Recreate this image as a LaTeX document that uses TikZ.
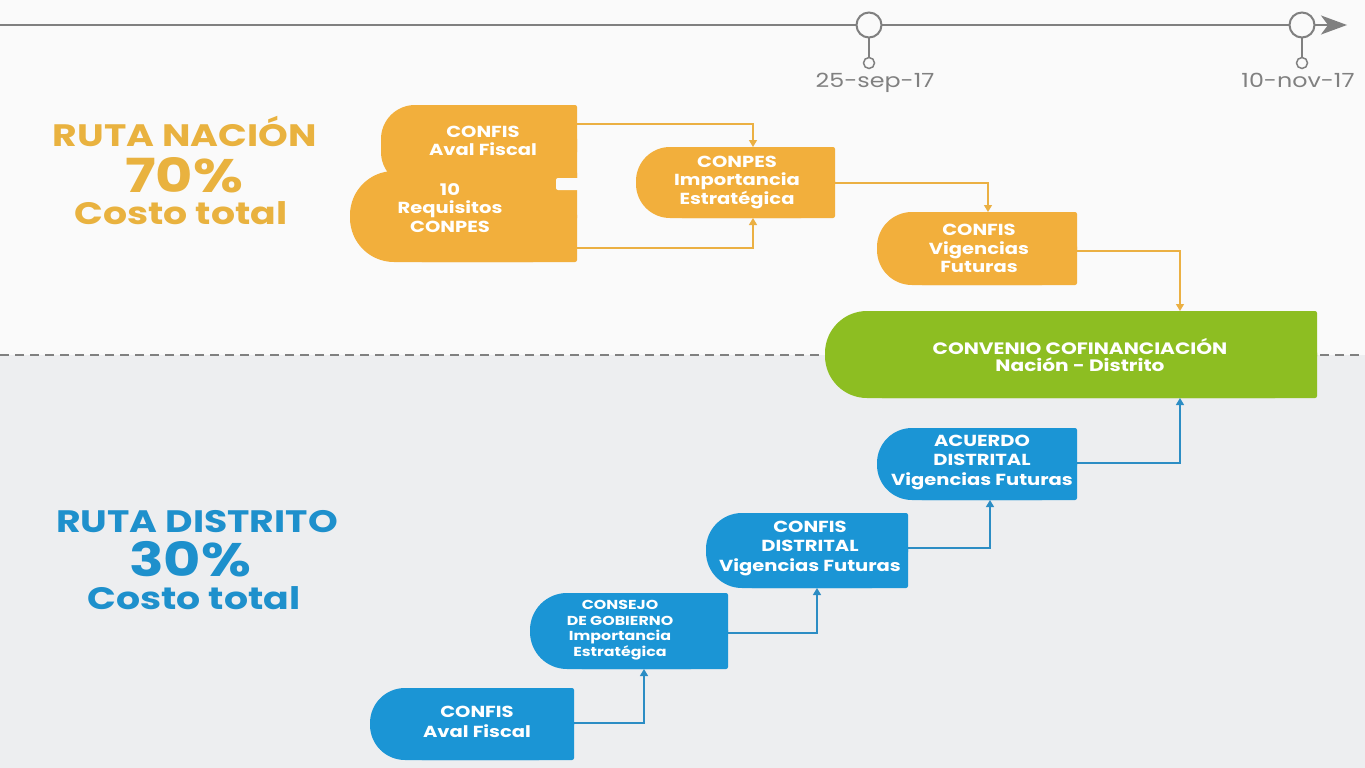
\documentclass[tikz,border=0pt]{standalone}
\usepackage{fontspec}
\setmainfont{Poppins}[FakeStretch=1.22]
\usetikzlibrary{arrows.meta,calc}
\pgfdeclarelayer{bg}
\pgfsetlayers{bg,main}
\definecolor{ora}{HTML}{F2AF3C}
\definecolor{oratext}{HTML}{E9B23F}
\definecolor{blu}{HTML}{1B95D5}
\definecolor{blutext}{HTML}{1E90CC}
\definecolor{grn}{HTML}{8DBE22}
\definecolor{topbg}{HTML}{FAFAFA}
\definecolor{botbg}{HTML}{EDEEF0}
\definecolor{tl}{HTML}{808080}
\definecolor{orline}{HTML}{EBB043}
\definecolor{blline}{HTML}{2C8DC4}
\begin{document}
\begin{tikzpicture}[x=1pt,y=-1pt,
  every node/.style={inner sep=0pt},
  box/.style 2 args={minimum width=#1,minimum height=#2,align=center,text=white},
  ofont/.style={font=\bfseries\fontsize{16}{18.5}\selectfont},
  bfont/.style={font=\bfseries\fontsize{16}{19.5}\selectfont},
  sfont/.style={font=\bfseries\fontsize{13}{15.5}\selectfont},
  gfont/.style={font=\bfseries\fontsize{16.5}{17.5}\selectfont},
  oarr/.style={orline,line width=1.3pt,-{Triangle[length=7pt,width=8pt]}},
  barr/.style={blline,line width=1.3pt,-{Triangle[length=7pt,width=8pt]}},
  big/.style={anchor=base,font=\bfseries\fontsize{31}{34}\selectfont},
  huge/.style={anchor=base,font=\bfseries\fontsize{47}{50}\selectfont},
  date/.style={anchor=base,text=tl,font=\fontsize{19.5}{22}\selectfont}]
\useasboundingbox (0,0) rectangle (1365,768);
\begin{pgfonlayer}{bg}
  \fill[topbg] (0,0) rectangle (1365,355);
  \fill[botbg] (0,355) rectangle (1365,768);
  \draw[tl,line width=1.5pt,dash pattern=on 9pt off 6pt] (0,355) -- (1365,355);
\end{pgfonlayer}

% timeline
\coordinate (tstart) at (0,25);
\coordinate (tend) at (1347,25);
\draw[tl,line width=2pt,-{Stealth[length=26pt,width=19pt,inset=7pt]}] (tstart) -- (tend);
\node[circle,draw=tl,line width=2pt,fill=topbg,minimum size=25pt] (t1) at (869,25) {};
\node[circle,draw=tl,line width=1.5pt,fill=topbg,minimum size=11pt] (s1) at (869,63) {};
\node[circle,draw=tl,line width=2pt,fill=topbg,minimum size=25pt] (t2) at (1302,25) {};
\node[circle,draw=tl,line width=1.5pt,fill=topbg,minimum size=11pt] (s2) at (1302,63) {};
\draw[tl,line width=1.5pt] (t1) -- (s1);
\draw[tl,line width=1.5pt] (t2) -- (s2);
\node[date] (d1) at (875,87) {25-sep-17};
\node[date] (d2) at (1298,87) {10-nov-17};

% left labels
\node[big,text=oratext] (rn) at (185,146) {RUTA NACIÓN};
\node[huge,text=oratext] (p70) at (184,192) {70\%};
\node[big,text=oratext] (ct1) at (181,224) {Costo total};
\node[big,text=blutext] (rd) at (197,532) {RUTA DISTRITO};
\node[huge,text=blutext] (p30) at (190,576) {30\%};
\node[big,text=blutext] (ct2) at (194,609) {Costo total};

% orange route
\node[box={196pt}{75pt},ofont] (confisN) at (483,141) {CONFIS\\Aval Fiscal};
\node[box={227pt}{76pt},ofont] (req) at (450,208) {10\\Requisitos\\CONPES};
\node[box={199pt}{71pt},ofont] (conpes) at (737,182.5) {CONPES\\Importancia\\Estratégica};
\node[box={200pt}{73pt},ofont] (vigN) at (979,248.5) {CONFIS\\Vigencias\\Futuras};
\node[box={492pt}{87pt},gfont] (conv) at (1080,355) {CONVENIO COFINANCIACIÓN\\Nación - Distrito};

% blue route
\node[box={204pt}{72pt},bfont] (avalD) at (477,722) {CONFIS\\Aval Fiscal};
\node[box={198pt}{76pt},sfont] (consejo) at (620,630) {CONSEJO\\DE GOBIERNO\\Importancia\\Estratégica};
\node[box={202pt}{75pt},bfont] (confisD) at (810,548) {CONFIS\\DISTRITAL\\Vigencias Futuras};
\node[box={200pt}{72pt},bfont] (acuerdo) at (982,462) {ACUERDO\\DISTRITAL\\Vigencias Futuras};

\begin{pgfonlayer}{bg}
  % merged shape
  \fill[ora,rounded corners=34pt] (381,105) rectangle (577,186);
  \fill[ora,rounded corners=2pt] (430,105) rectangle (577,186);
  \fill[ora,rounded corners=44pt] (350,171) rectangle (577,262);
  \fill[ora,rounded corners=2pt] (420,171) rectangle (577,262);
  \fill[topbg,rounded corners=2pt] (556,178) rectangle (580,190);
  \fill[ora,rounded corners=34pt] (636,147) rectangle (835,218);
  \fill[ora,rounded corners=2pt] (680,147) rectangle (835,218);
  \fill[ora,rounded corners=35pt] (877,212) rectangle (1077,285);
  \fill[ora,rounded corners=2pt] (920,212) rectangle (1077,285);
  \fill[grn,rounded corners=42pt] (825,311) rectangle (1317,398);
  \fill[grn,rounded corners=2pt] (880,311) rectangle (1317,398);
  \fill[blu,rounded corners=35pt] (370,688) rectangle (574,760);
  \fill[blu,rounded corners=2pt] (420,688) rectangle (574,760);
  \fill[blu,rounded corners=37pt] (530,593) rectangle (728,669);
  \fill[blu,rounded corners=2pt] (580,593) rectangle (728,669);
  \fill[blu,rounded corners=36pt] (706,513) rectangle (908,588);
  \fill[blu,rounded corners=2pt] (750,513) rectangle (908,588);
  \fill[blu,rounded corners=35pt] (877,428) rectangle (1077,500);
  \fill[blu,rounded corners=2pt] (920,428) rectangle (1077,500);
\end{pgfonlayer}

% connectors
\coordinate (cnN) at (753,147);
\coordinate (cnS) at (753,218);
\coordinate (vgN) at (988,212);
\coordinate (cvN) at (1180,311);
\coordinate (cvS) at (1180,398);
\coordinate (csS) at (644,669);
\coordinate (cdS) at (817,588);
\coordinate (acS) at (990,500);
\coordinate (oa) at (577,124);
\coordinate (ob) at (577,248);
\coordinate (oc) at (835,183);
\coordinate (od) at (1077,251);
\coordinate (ba) at (574,723);
\coordinate (bb) at (728,633);
\coordinate (bc) at (908,548);
\coordinate (bd) at (1077,463);
\draw[oarr] (oa) -| (cnN);
\draw[oarr] (ob) -| (cnS);
\draw[oarr] (oc) -| (vgN);
\draw[oarr] (od) -| (cvN);
\draw[barr] (ba) -| (csS);
\draw[barr] (bb) -| (cdS);
\draw[barr] (bc) -| (acS);
\draw[barr] (bd) -| (cvS);
\end{tikzpicture}
\end{document}
